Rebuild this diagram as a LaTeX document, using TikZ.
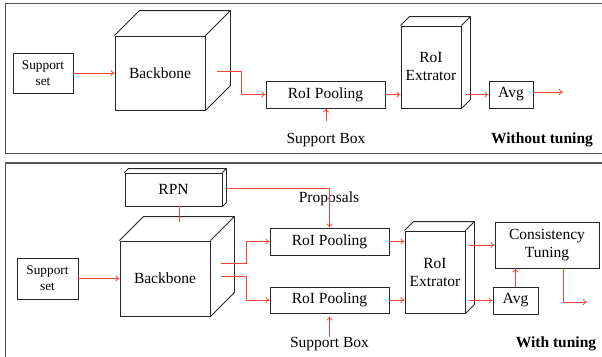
\documentclass[tikz,border=0pt]{standalone}
\usepackage{fontspec}
\setmainfont{Liberation Serif}
\usetikzlibrary{arrows.meta, positioning, calc}
\definecolor{rojo}{RGB}{240,72,52}
\definecolor{marco}{RGB}{85,85,85}

\begin{document}
\begin{tikzpicture}[x=1pt, y=-1pt, font=\fontsize{15.5}{18}\selectfont,
  caja/.style={draw=black!85, line width=0.9pt, align=center, inner sep=0pt},
  flecha/.style={rojo, line width=0.8pt, -{To[length=4pt,width=6pt]}},
  linea/.style={rojo, line width=0.8pt},
  chico/.style={font=\fontsize{13.3}{16}\selectfont}]
\useasboundingbox (0,0) rectangle (602,356);
\clip (0,0) rectangle (602,356);

% Marcos
\draw[marco, line width=1.6pt] (5.5,3.5) rectangle (620,153.5);
\draw[marco, line width=1.6pt] (5.5,163) rectangle (620,380);

% Sin ajuste (arriba)
\node[caja, chico, minimum width=60, minimum height=40] (sup1) at (43,73) {Support\\set};
\node[caja, minimum width=90, minimum height=74] (bb1) at (160,73) {Backbone};
\node[caja, minimum width=119, minimum height=27] (pool1) at (325.5,94.5) {RoI Pooling};
\node[caja, minimum width=60, minimum height=82] (ext1) at (431,67) {RoI\\Extrator};
\node[caja, minimum width=44, minimum height=27] (avg1) at (511,94.5) {Avg};
\node[anchor=base, inner sep=0] (sbox1) at (326,143.5) {Support Box};
\node[anchor=base, inner sep=0] (wt1) at (542,143.5) {\textbf{Without tuning}};
\coordinate (out1) at (563,92);

% Con ajuste (abajo)
\node[caja, minimum width=97, minimum height=33] (rpn) at (173.5,189.5) {RPN};
\node[caja, chico, minimum width=61, minimum height=41] (sup2) at (47.5,278.5) {Support\\set};
\node[caja, minimum width=90, minimum height=75] (bb2) at (165,278.5) {Backbone};
\node[caja, minimum width=119, minimum height=27] (pool2) at (329.5,241.5) {RoI Pooling};
\node[caja, minimum width=119, minimum height=26] (pool3) at (329.5,300) {RoI Pooling};
\node[caja, minimum width=60, minimum height=82] (ext2) at (435,272) {RoI\\Extrator};
\node[caja, minimum width=104, minimum height=46] (cons) at (547,245) {Consistency\\Tuning};
\node[caja, minimum width=45, minimum height=27] (avg2) at (515.5,300.5) {Avg};
\node[anchor=base] (prop) at (329,202) {Proposals};
\node[anchor=base, inner sep=0] (sbox2) at (329.5,347.5) {Support Box};
\node[anchor=base, inner sep=0] (wt2) at (556,347.5) {\textbf{With tuning}};
\coordinate (out2) at (587,302);

% Caras ocultas de los bloques
\foreach \n/\d in {bb1/25, ext1/9, rpn/4, bb2/24, ext2/9}
  \draw[draw=black!85, line width=0.9pt, line join=round]
    (\n.north west) -- ++(\d,-\d) -- ($(\n.north east)+(\d,-\d)$)
    -- ($(\n.south east)+(\d,-\d)$) -- (\n.south east)
    (\n.north east) -- ++(\d,-\d);

% Flujo de arriba
\draw[flecha] (sup1.east) -- (bb1.west);
\draw[flecha] ([xshift=12pt,yshift=2pt]bb1.east) -- ++(24,0) |- (pool1.west);
\draw[flecha] (pool1.east) -- (pool1.east -| ext1.west);
\draw[flecha] ([xshift=5pt]ext1.east |- avg1.west) -- (avg1.west);
\draw[flecha] (avg1.east |- out1) -- (out1);
\draw[flecha] ([yshift=12pt]sbox1.north) -- (sbox1.north |- pool1.south);

% Flujo de abajo
\draw[flecha] (sup2.east) -- (bb2.west);
\draw[linea] ([xshift=5.5pt]rpn.south) -- ++(0,16);
\draw[flecha] ([xshift=4pt,yshift=1.5pt]rpn.east) -| (pool2.north);
\draw[flecha] ([xshift=11pt,yshift=15.5pt]bb2.east) -- ++(25,0) |- (pool2.west);
\draw[flecha] ([xshift=11pt,yshift=2.5pt]bb2.east) -- ++(25,0) |- (pool3.west);
\draw[flecha] (pool2.east) -- (pool2.east -| ext2.west);
\draw[flecha] (pool3.east) -- (pool3.east -| ext2.west);
\draw[flecha] ([xshift=4pt]ext2.east |- cons.west) -- (cons.west);
\draw[flecha] ([xshift=4pt]ext2.east |- avg2.west) -- (avg2.west);
\draw[flecha] (avg2.north) -- (avg2.north |- cons.south);
\draw[flecha] ([xshift=16pt]cons.south) |- (out2);
\draw[flecha, shorten >=3pt] ([yshift=0.5pt]sbox2.north) -- (sbox2.north |- pool3.south);

\end{tikzpicture}
\end{document}
